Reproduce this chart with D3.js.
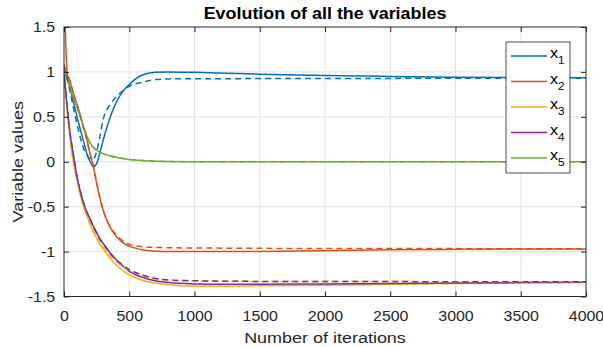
<!DOCTYPE html>
<html>
<head>
<meta charset="utf-8">
<script src="https://cdn.jsdelivr.net/npm/d3@7"></script>
<style>
  body { margin: 0; background: #fff; }
  svg { font-family: "Liberation Sans", Arial, Helvetica, sans-serif; }
</style>
</head>
<body>
<svg id="chart"></svg>
<script>
// iteration grid shared by every series
const iterations = [0, 25, 50, 75, 100, 125, 150, 175, 200, 225, 250, 275, 300, 350, 400, 450, 500, 600, 700, 800, 1000, 1250, 1500, 2000, 2500, 3000, 3500, 4000];

// solid lines
const x1 = [1.08, 0.95, 0.80, 0.65, 0.50, 0.36, 0.23, 0.09, 0.00, -0.055, -0.02, 0.10, 0.24, 0.48, 0.66, 0.78, 0.86, 0.965, 0.995, 1.0, 0.995, 0.985, 0.975, 0.96, 0.95, 0.942, 0.937, 0.935];
const x2 = [2.0, 0.98, 0.88, 0.75, 0.64, 0.52, 0.38, 0.25, 0.09, -0.05, -0.24, -0.40, -0.54, -0.72, -0.83, -0.90, -0.94, -0.98, -0.995, -1.0, -1.0, -1.0, -0.998, -0.99, -0.98, -0.975, -0.972, -0.97];
const x3 = [1.0, 0.56, 0.22, -0.03, -0.21, -0.37, -0.50, -0.60, -0.70, -0.78, -0.85, -0.92, -0.97, -1.07, -1.15, -1.21, -1.26, -1.32, -1.35, -1.37, -1.385, -1.385, -1.38, -1.375, -1.365, -1.355, -1.348, -1.343];
const x4 = [1.0, 0.60, 0.28, 0.05, -0.17, -0.33, -0.46, -0.56, -0.64, -0.72, -0.79, -0.86, -0.91, -1.01, -1.09, -1.16, -1.22, -1.285, -1.325, -1.345, -1.36, -1.365, -1.365, -1.36, -1.355, -1.35, -1.345, -1.34];
const x5 = [1.0, 0.91, 0.81, 0.71, 0.61, 0.50, 0.39, 0.29, 0.21, 0.16, 0.13, 0.105, 0.09, 0.067, 0.05, 0.036, 0.026, 0.013, 0.006, 0.002, 0, 0, 0, 0, 0, 0, 0, 0];

// dashed lines
const x1d = [1.05, 0.92, 0.76, 0.58, 0.42, 0.27, 0.15, 0.08, 0.035, 0.03, 0.11, 0.28, 0.47, 0.63, 0.72, 0.79, 0.84, 0.885, 0.915, 0.922, 0.925, 0.925, 0.926, 0.927, 0.928, 0.929, 0.93, 0.93];
const x2d = [1.05, 0.98, 0.87, 0.74, 0.62, 0.50, 0.37, 0.24, 0.09, -0.05, -0.23, -0.40, -0.54, -0.71, -0.81, -0.88, -0.92, -0.945, -0.953, -0.957, -0.96, -0.962, -0.964, -0.965, -0.966, -0.967, -0.968, -0.968];
const x3d = [1.0, 0.57, 0.24, -0.01, -0.19, -0.35, -0.48, -0.58, -0.67, -0.75, -0.82, -0.88, -0.94, -1.04, -1.11, -1.17, -1.21, -1.26, -1.30, -1.315, -1.325, -1.33, -1.332, -1.333, -1.334, -1.335, -1.335, -1.336];
const x4d = [1.0, 0.60, 0.28, 0.05, -0.17, -0.33, -0.46, -0.56, -0.64, -0.72, -0.79, -0.86, -0.91, -1.01, -1.09, -1.15, -1.20, -1.26, -1.30, -1.315, -1.325, -1.33, -1.332, -1.333, -1.334, -1.335, -1.335, -1.336];
const x5d = [1.0, 0.91, 0.81, 0.71, 0.61, 0.50, 0.39, 0.29, 0.21, 0.16, 0.13, 0.105, 0.09, 0.067, 0.05, 0.036, 0.026, 0.013, 0.006, 0.002, 0, 0, 0, 0, 0, 0, 0, 0];

const names = ['1', '2', '3', '4', '5'];
const colors = ['#0072BD', '#D95319', '#EDB120', '#7E2F8E', '#77AC30'];
const solid = [x1, x2, x3, x4, x5];
const dashed = [x1d, x2d, x3d, x4d, x5d];

const xTicks = [0, 500, 1000, 1500, 2000, 2500, 3000, 3500, 4000];
const yTicks = [-1.5, -1, -0.5, 0, 0.5, 1, 1.5];

const width = 603, height = 347;
const margin = { top: 27, right: 17, bottom: 50.5, left: 64 };
const innerW = width - margin.left - margin.right;
const innerH = height - margin.top - margin.bottom;
const axisColor = '#262626';
const stretch = 'scale(1.1,1)';   // reference font renders wider than Liberation Sans

const svg = d3.select('#chart')
    .attr('width', width)
    .attr('height', height);

const x = d3.scaleLinear().domain([0, 4000]).range([0, innerW]);
const y = d3.scaleLinear().domain([-1.5, 1.5]).range([innerH, 0]);

const g = svg.append('g')
    .attr('transform', `translate(${margin.left},${margin.top})`);

svg.append('defs').append('clipPath')
    .attr('id', 'clip')
  .append('rect')
    .attr('width', innerW)
    .attr('height', innerH);

// grid
g.append('g')
    .selectAll('line')
    .data(xTicks.slice(1, -1))
    .join('line')
        .attr('x1', d => x(d)).attr('x2', d => x(d))
        .attr('y1', 0).attr('y2', innerH)
        .attr('stroke', '#e3e3e3');
g.append('g')
    .selectAll('line')
    .data(yTicks.slice(1, -1))
    .join('line')
        .attr('x1', 0).attr('x2', innerW)
        .attr('y1', d => y(d)).attr('y2', d => y(d))
        .attr('stroke', '#e3e3e3');

// lines
const line = d3.line()
    .x((d, i) => x(iterations[i]))
    .y(d => y(d))
    .curve(d3.curveMonotoneX);

const plot = g.append('g').attr('clip-path', 'url(#clip)');

plot.selectAll('path.solid')
    .data(solid)
    .join('path')
        .attr('class', 'solid')
        .attr('d', line)
        .attr('fill', 'none')
        .attr('stroke', (d, i) => colors[i])
        .attr('stroke-width', 1.5);

plot.selectAll('path.dashed')
    .data(dashed)
    .join('path')
        .attr('class', 'dashed')
        .attr('d', line)
        .attr('fill', 'none')
        .attr('stroke', (d, i) => colors[i])
        .attr('stroke-width', 1.5)
        .attr('stroke-dasharray', '6,4');

// axes (MATLAB style: ticks inside, box around)
const fmt = d => String(d);

const xAxisB = d3.axisBottom(x).tickValues(xTicks).tickSize(-5).tickPadding(14).tickFormat(fmt);
const xAxisT = d3.axisTop(x).tickValues(xTicks).tickSize(-5).tickFormat('');
const yAxisL = d3.axisLeft(y).tickValues(yTicks).tickSize(-5).tickPadding(8).tickFormat(fmt);
const yAxisR = d3.axisRight(y).tickValues(yTicks).tickSize(-5).tickFormat('');

const styleAxis = sel => {
    sel.selectAll('.tick line').attr('stroke', axisColor);
    sel.selectAll('.tick text')
        .attr('fill', axisColor)
        .attr('transform', stretch)
        .style('font-size', '14.5px');
};

g.append('g').attr('transform', `translate(0,${innerH})`).call(xAxisB).call(styleAxis);
g.append('g').call(xAxisT).call(styleAxis);
g.append('g').call(yAxisL).call(styleAxis);
g.append('g').attr('transform', `translate(${innerW},0)`).call(yAxisR).call(styleAxis);

g.selectAll('.domain').remove();
g.append('rect')
    .attr('width', innerW)
    .attr('height', innerH)
    .attr('fill', 'none')
    .attr('stroke', axisColor);

// labels
svg.append('text')
    .attr('transform', `translate(${margin.left + innerW / 2},19) scale(1.12,1)`)
    .attr('text-anchor', 'middle')
    .style('font-size', '16px')
    .style('font-weight', 'bold')
    .text('Evolution of all the variables');

svg.append('text')
    .attr('transform', `translate(${margin.left + innerW / 2},343) scale(1.16,1)`)
    .attr('text-anchor', 'middle')
    .attr('fill', axisColor)
    .style('font-size', '15.5px')
    .text('Number of iterations');

svg.append('text')
    .attr('transform', `translate(23,${margin.top + innerH / 2}) rotate(-90) scale(1.16,1)`)
    .attr('text-anchor', 'middle')
    .attr('fill', axisColor)
    .style('font-size', '15.5px')
    .text('Variable values');

// legend
const legend = svg.append('g').attr('transform', 'translate(506,42)');
legend.append('rect')
    .attr('width', 64)
    .attr('height', 131)
    .attr('fill', '#fff')
    .attr('stroke', axisColor)
    .attr('stroke-width', 0.8);

const item = legend.selectAll('g.item')
    .data(names)
    .join('g')
        .attr('class', 'item')
        .attr('transform', (d, i) => `translate(0,${14 + i * 25.5})`);

item.append('line')
    .attr('x1', 5).attr('x2', 41)
    .attr('stroke', (d, i) => colors[i])
    .attr('stroke-width', 1.5);

const label = item.append('text')
    .attr('transform', 'translate(44,2) scale(1.12,1)')
    .attr('fill', '#000')
    .style('font-size', '14.5px');
label.append('tspan').text('x');
label.append('tspan')
    .attr('dy', 6)
    .style('font-size', '10.5px')
    .text(d => d);
</script>
</body>
</html>
